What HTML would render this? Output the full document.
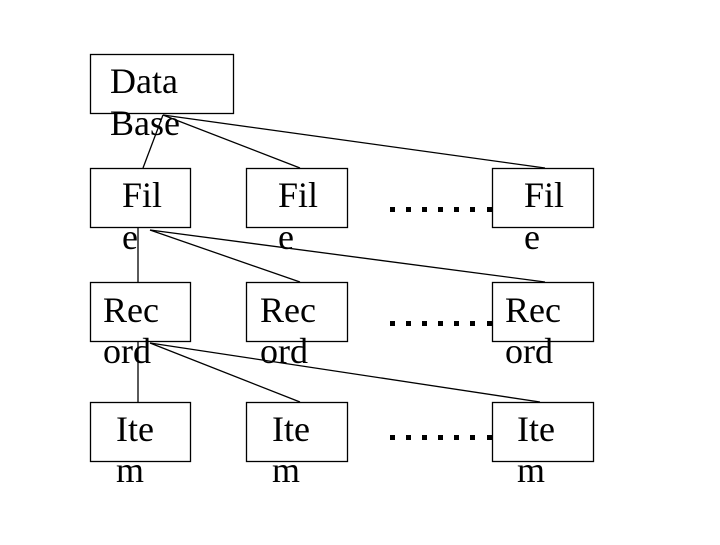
<!DOCTYPE html>
<html><head><style>
html,body{margin:0;padding:0;background:#fff;}
svg text{font-family:"Liberation Serif",serif;font-size:36px;fill:#000;}
</style></head><body>
<svg width="720" height="540" xmlns="http://www.w3.org/2000/svg">
<g fill="none" stroke="#000" stroke-width="1.3">
<rect x="90.5" y="54.5" width="143" height="59"/>
<rect x="90.5" y="168.5" width="100" height="59"/>
<rect x="246.5" y="168.5" width="101" height="59"/>
<rect x="492.5" y="168.5" width="101" height="59"/>
<rect x="90.5" y="282.5" width="100" height="59"/>
<rect x="246.5" y="282.5" width="101" height="59"/>
<rect x="492.5" y="282.5" width="101" height="59"/>
<rect x="90.5" y="402.5" width="100" height="59"/>
<rect x="246.5" y="402.5" width="101" height="59"/>
<rect x="492.5" y="402.5" width="101" height="59"/>
<line x1="163" y1="115" x2="143" y2="168"/>
<line x1="163" y1="115" x2="300" y2="168"/>
<line x1="163" y1="115" x2="545" y2="168"/>
<line x1="138" y1="227" x2="138" y2="282"/>
<line x1="150" y1="230" x2="300" y2="282"/>
<line x1="150" y1="230" x2="545" y2="282"/>
<line x1="138" y1="341" x2="138" y2="402"/>
<line x1="150" y1="343" x2="300" y2="402"/>
<line x1="150" y1="343" x2="540" y2="402"/>
</g>
<g fill="#000">
<g id="d"><rect x="390" y="207" width="5" height="5"/><rect x="406" y="207" width="5" height="5"/><rect x="422" y="207" width="5" height="5"/><rect x="438" y="207" width="5" height="5"/><rect x="454" y="207" width="5" height="5"/><rect x="470" y="207" width="5" height="5"/><rect x="487" y="207" width="5" height="5"/></g>
<use href="#d" y="114"/>
<use href="#d" y="228"/>
</g>
<text x="110" y="93">Data</text><text x="110" y="135">Base</text>
<text x="122" y="207">Fil</text><text x="122" y="249">e</text>
<text x="278" y="207">Fil</text><text x="278" y="249">e</text>
<text x="524" y="207">Fil</text><text x="524" y="249">e</text>
<text x="103" y="322">Rec</text><text x="103" y="363">ord</text>
<text x="260" y="322">Rec</text><text x="260" y="363">ord</text>
<text x="505" y="322">Rec</text><text x="505" y="363">ord</text>
<text x="116" y="441">Ite</text><text x="116" y="482">m</text>
<text x="272" y="441">Ite</text><text x="272" y="482">m</text>
<text x="517" y="441">Ite</text><text x="517" y="482">m</text>
</svg>
</body></html>
